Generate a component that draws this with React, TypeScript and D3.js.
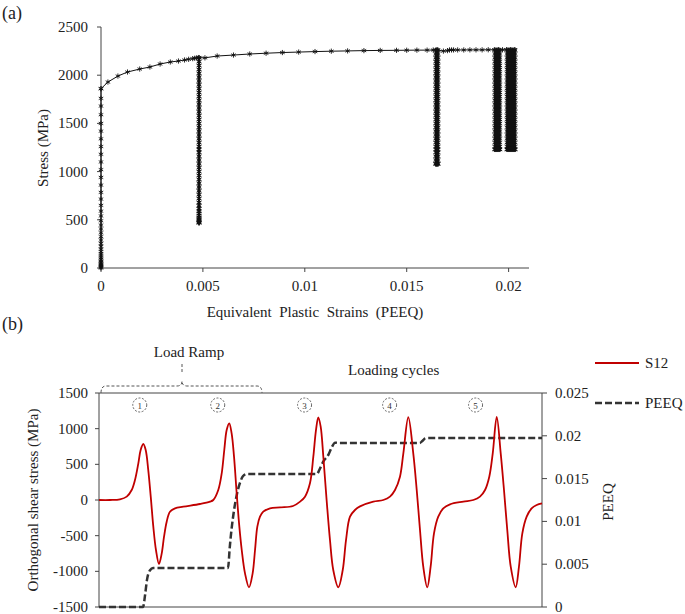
import React from "react";
import * as d3 from "d3";

// ---------- (a) data ----------
const aXTicks = [0, 0.005, 0.01, 0.015, 0.02];
const aXTickLabels = ["0", "0.005", "0.01", "0.015", "0.02"];
const aYTicks = [0, 500, 1000, 1500, 2000, 2500];

// initial elastic loading at strain 0 (stress levels of the markers)
const initialStress = [0, 8, 16, 25, 35, 45, 58, 72, 88, 105, 125, 145, 170, 195, 225, 255, 290, 325, 365, 405, 445, 490, 540, 590, 650, 715, 785, 860, 940, 1020, 1100, 1180, 1260, 1340, 1420, 1500, 1590, 1680, 1760, 1860];

// hardening curve (strain, stress)
const hardStrain = [0, 0.00034, 0.00083, 0.0013, 0.0019, 0.0024, 0.0029, 0.0034, 0.0038, 0.0041, 0.0043, 0.0045, 0.0046, 0.0047, 0.0048, 0.0051, 0.0057, 0.0065, 0.0073, 0.0081, 0.0089, 0.0097, 0.0105, 0.0113, 0.0121, 0.0129, 0.0137, 0.0145, 0.0150, 0.0155, 0.0160, 0.0163, 0.0165, 0.0168, 0.0170, 0.0171, 0.0172, 0.0173, 0.0175, 0.0178, 0.0181, 0.0184, 0.0187, 0.0190, 0.0193, 0.0195, 0.0197, 0.0199, 0.0201, 0.0203];
const hardStress = [1860, 1929, 1991, 2033, 2064, 2085, 2116, 2137, 2147, 2158, 2165, 2172, 2176, 2180, 2183, 2180, 2199, 2209, 2220, 2228, 2235, 2240, 2245, 2249, 2252, 2255, 2257, 2258, 2259, 2260, 2260, 2261, 2262, 2250, 2255, 2262, 2262, 2262, 2262, 2262, 2263, 2263, 2263, 2264, 2264, 2264, 2264, 2265, 2265, 2265];

// unloading/reloading dips: strains of each loop, and lowest stress
const dipStrains = [
  [0.0048, 0.00482],
  [0.01642, 0.01646, 0.0165, 0.01654],
  [0.01932, 0.01937, 0.01942, 0.01947, 0.01952, 0.01957],
  [0.01992, 0.01997, 0.02002, 0.02007, 0.02012, 0.02017, 0.02022, 0.02027, 0.02032],
];
const dipMin = [470, 1080, 1230, 1230];
const dipMax = [2183, 2262, 2264, 2265];
const dipLevels = [2260, 2220, 2180, 2140, 2100, 2060, 2020, 1980, 1940, 1900, 1860, 1820, 1780, 1740, 1700, 1660, 1620, 1580, 1540, 1500, 1460, 1420, 1380, 1340, 1300, 1260, 1230, 1200, 1160, 1120, 1080, 1040, 1000, 960, 920, 880, 840, 800, 760, 720, 680, 645, 615, 590, 565, 545, 525, 510, 495, 482, 470];

// ---------- (b) data ----------
const bLeftTicks = [-1500, -1000, -500, 0, 500, 1000, 1500];
const bRightTicks = [0, 0.005, 0.01, 0.015, 0.02, 0.025];
const bRightLabels = ["0", "0.005", "0.01", "0.015", "0.02", "0.025"];

// S12 time history (time in cycle units, stress in MPa)
const s12Time = [
  0, 0.124, 0.237, 0.313, 0.369, 0.406, 0.444, 0.47, 0.5, 0.527, 0.556, 0.584, 0.613, 0.643, 0.677, 0.708, 0.734, 0.764, 0.801, 0.858, 0.951, 1.14, 1.253,
  1.29, 1.346, 1.385, 1.414, 1.441, 1.47, 1.497, 1.524, 1.554, 1.584, 1.611, 1.648, 1.693, 1.734, 1.761, 1.787, 1.817, 1.854, 1.93, 2.043, 2.19,
  2.269, 2.325, 2.381, 2.419, 2.449, 2.475, 2.502, 2.532, 2.569, 2.607, 2.644, 2.701, 2.751, 2.788, 2.833, 2.889, 2.946, 3.096,
  3.209, 3.284, 3.341, 3.397, 3.435, 3.491, 3.547, 3.586, 3.623, 3.66, 3.705, 3.743, 3.781, 3.829, 3.886, 3.962, 4.112,
  4.225, 4.3, 4.357, 4.405, 4.444, 4.489, 4.534, 4.571, 4.608, 4.647, 4.703, 4.74, 4.778, 4.827, 4.883, 4.94, 5.0,
];
const s12Value = [
  0, 0, 9, 47, 140, 280, 514, 701, 785, 701, 420, 47, -374, -701, -897, -748, -514, -304, -164, -117, -94, -56, -23,
  0, 140, 374, 701, 981, 1075, 935, 607, 93, -374, -701, -1028, -1224, -1028, -701, -374, -234, -164, -117, -103, -84,
  -23, 47, 234, 607, 981, 1159, 1028, 607, 0, -561, -981, -1224, -981, -561, -234, -140, -90, -23,
  0, 47, 140, 327, 654, 1160, 654, 140, -420, -935, -1224, -935, -467, -234, -117, -61, -23,
  0, 47, 140, 327, 654, 1165, 654, 140, -420, -935, -1224, -935, -467, -234, -117, -70, -47,
];

// PEEQ time history
const peeqTime = [0, 0.497, 0.52, 0.542, 0.576, 0.61, 0.65, 1.456, 1.476, 1.495, 1.524, 1.559, 1.591, 1.626, 1.667, 1.7, 1.72, 2.458, 2.495, 2.533, 2.59, 2.629, 2.664, 2.7, 2.76, 3.62, 3.65, 3.685, 3.72, 5.0];
const peeqValue = [0, 0, 0.0014, 0.0032, 0.0043, 0.00456, 0.00456, 0.00456, 0.007, 0.009, 0.0113, 0.0133, 0.0145, 0.0153, 0.01554, 0.01554, 0.01554, 0.01554, 0.0162, 0.017, 0.0178, 0.0187, 0.0192, 0.01916, 0.01916, 0.01916, 0.0194, 0.0197, 0.01974, 0.01974];

const cycleLabels = ["1", "2", "3", "4", "5"];
const cycleLabelTime = [0.46, 1.34, 2.32, 3.28, 4.25];

const FONT = '"Liberation Serif", "Times New Roman", serif';

function Asterisk({ x, y }: { x: number; y: number }) {
  const r = 2.6;
  const d = r * 0.87;
  return (
    <path
      d={`M${x},${y - r}L${x},${y + r}M${x - d},${y - r / 2}L${x + d},${y + r / 2}M${x - d},${y + r / 2}L${x + d},${y - r / 2}`}
      stroke="#111"
      strokeWidth={0.9}
      fill="none"
    />
  );
}

export default function App() {
  // ---- (a) scales ----
  const xA = d3.scaleLinear().domain([0, 0.021]).range([101, 529]);
  const yA = d3.scaleLinear().domain([0, 2500]).range([268, 27]);

  const hardPts: [number, number][] = hardStrain.map((s, i) => [xA(s), yA(hardStress[i])]);
  const lineA = d3.line<[number, number]>().x((d) => d[0]).y((d) => d[1]);

  // ---- (b) scales ----
  const xB = d3.scaleLinear().domain([0, 5]).range([99, 542]);
  const yB = d3.scaleLinear().domain([-1500, 1500]).range([607, 393]);
  const yP = d3.scaleLinear().domain([0, 0.025]).range([607, 393]);

  const s12Line = d3
    .line<number>()
    .x((_, i) => xB(s12Time[i]))
    .y((v) => yB(v))
    .curve(d3.curveCatmullRom.alpha(0.5))(s12Value) as string;
  const peeqLine = d3
    .line<number>()
    .x((_, i) => xB(peeqTime[i]))
    .y((v) => yP(v))
    .curve(d3.curveMonotoneX)(peeqValue) as string;

  const tickFont = 15;

  return (
    <svg
      width={685}
      height={614}
      style={{ position: "absolute", left: 0, top: 0, background: "#fff" }}
      fontFamily={FONT}
    >
      <rect x={0} y={0} width={685} height={614} fill="#fff" />
      {/* ================= (a) ================= */}
      <text x={2} y={19} fontSize={18} fill="#222">(a)</text>

      {/* axes */}
      <line x1={xA(0)} x2={xA(0)} y1={yA(2500)} y2={yA(0)} stroke="#444" strokeWidth={1} />
      <line x1={xA(0)} x2={xA(0.021)} y1={yA(0)} y2={yA(0)} stroke="#444" strokeWidth={1} />
      {aYTicks.map((t) => (
        <g key={"ay" + t}>
          <line x1={xA(0) - 4} x2={xA(0)} y1={yA(t)} y2={yA(t)} stroke="#444" />
          <text x={88} y={yA(t) + 5} textAnchor="end" fontSize={tickFont} fill="#222">{t}</text>
        </g>
      ))}
      {aXTicks.map((t, i) => (
        <g key={"ax" + t}>
          <line x1={xA(t)} x2={xA(t)} y1={yA(0)} y2={yA(0) + 4} stroke="#444" />
          <text x={xA(t)} y={291} textAnchor="middle" fontSize={tickFont} fill="#222">{aXTickLabels[i]}</text>
        </g>
      ))}
      <text x={315} y={317} textAnchor="middle" fontSize={15} fill="#222" style={{ whiteSpace: "pre" }}>
        {"Equivalent  Plastic  Strains  (PEEQ)"}
      </text>
      <text transform={`translate(48,148) rotate(-90)`} textAnchor="middle" fontSize={15} fill="#222">
        Stress (MPa)
      </text>

      {/* initial loading */}
      <line x1={xA(0)} x2={xA(0)} y1={yA(0)} y2={yA(1860)} stroke="#111" strokeWidth={1} />
      {initialStress.map((s, i) => (
        <Asterisk key={"is" + i} x={xA(0)} y={yA(s)} />
      ))}
      {/* hardening curve */}
      <path d={lineA(hardPts) as string} stroke="#111" strokeWidth={1} fill="none" />
      {hardPts.map((p, i) => (
        <Asterisk key={"hp" + i} x={p[0]} y={p[1]} />
      ))}
      {/* dips */}
      {dipStrains.map((xs, di) => (
        <g key={"dip" + di}>
          {xs.map((s, j) => (
            <g key={j}>
              <line x1={xA(s)} x2={xA(s)} y1={yA(dipMax[di])} y2={yA(dipMin[di])} stroke="#111" strokeWidth={1.2} />
              {dipLevels
                .filter((l) => l >= dipMin[di] && l <= dipMax[di])
                .map((l, k) => (
                  <Asterisk key={k} x={xA(s)} y={yA(l)} />
                ))}
              <Asterisk x={xA(s)} y={yA(dipMin[di])} />
            </g>
          ))}
        </g>
      ))}

      {/* ================= (b) ================= */}
      <text x={2} y={330} fontSize={18} fill="#222">(b)</text>

      {/* frame */}
      <line x1={xB(0)} x2={xB(5)} y1={yB(1500)} y2={yB(1500)} stroke="#444" />
      <line x1={xB(0)} x2={xB(5)} y1={yB(-1500)} y2={yB(-1500)} stroke="#444" />
      <line x1={xB(0)} x2={xB(0)} y1={yB(1500)} y2={yB(-1500)} stroke="#444" />
      <line x1={xB(5)} x2={xB(5)} y1={yB(1500)} y2={yB(-1500)} stroke="#444" />
      {bLeftTicks.map((t) => (
        <g key={"bl" + t}>
          <line x1={xB(0) - 4} x2={xB(0)} y1={yB(t)} y2={yB(t)} stroke="#444" />
          <text x={88} y={yB(t) + 5} textAnchor="end" fontSize={tickFont} fill="#222">{t}</text>
        </g>
      ))}
      {bRightTicks.map((t, i) => (
        <g key={"br" + t}>
          <line x1={xB(5)} x2={xB(5) + 5} y1={yP(t)} y2={yP(t)} stroke="#444" />
          <text x={555} y={yP(t) + 5} textAnchor="start" fontSize={tickFont} fill="#222">{bRightLabels[i]}</text>
        </g>
      ))}
      <text transform={`translate(38,500) rotate(-90)`} textAnchor="middle" fontSize={15} fill="#222">
        Orthogonal shear stress (MPa)
      </text>
      <text transform={`translate(613,502) rotate(-90)`} textAnchor="middle" fontSize={15} fill="#222">
        PEEQ
      </text>

      {/* load ramp bracket */}
      <path
        d={`M101,393 Q101,386 106,386 L177,386 Q182,386 182,381 Q182,386 187,386 L257,386 Q262,386 262,393`}
        stroke="#555"
        strokeWidth={1}
        strokeDasharray="3,2"
        fill="none"
      />
      <line x1={182} x2={182} y1={364} y2={374} stroke="#555" strokeDasharray="3,2" />
      <text x={189} y={357} textAnchor="middle" fontSize={15} fill="#222">Load Ramp</text>
      <text x={348} y={375} fontSize={15} fill="#222">Loading cycles</text>

      {/* cycle markers */}
      {cycleLabels.map((c, i) => (
        <g key={"cl" + c}>
          <circle cx={xB(cycleLabelTime[i])} cy={405} r={7} fill="none" stroke="#555" strokeWidth={0.9} strokeDasharray="2,1.5" />
          <text x={xB(cycleLabelTime[i])} y={408.5} textAnchor="middle" fontSize={9} fill="#333">{c}</text>
        </g>
      ))}

      {/* series */}
      <path d={peeqLine} stroke="#333" strokeWidth={2.5} strokeDasharray="7,3" fill="none" />
      <path d={s12Line} stroke="#c00000" strokeWidth={1.8} fill="none" />

      {/* legend */}
      <line x1={595} x2={639} y1={363} y2={363} stroke="#c00000" strokeWidth={1.8} />
      <text x={645} y={368} fontSize={15} fill="#222">S12</text>
      <line x1={595} x2={639} y1={403} y2={403} stroke="#333" strokeWidth={2.5} strokeDasharray="7,3" />
      <text x={645} y={408} fontSize={15} fill="#222">PEEQ</text>
    </svg>
  );
}
